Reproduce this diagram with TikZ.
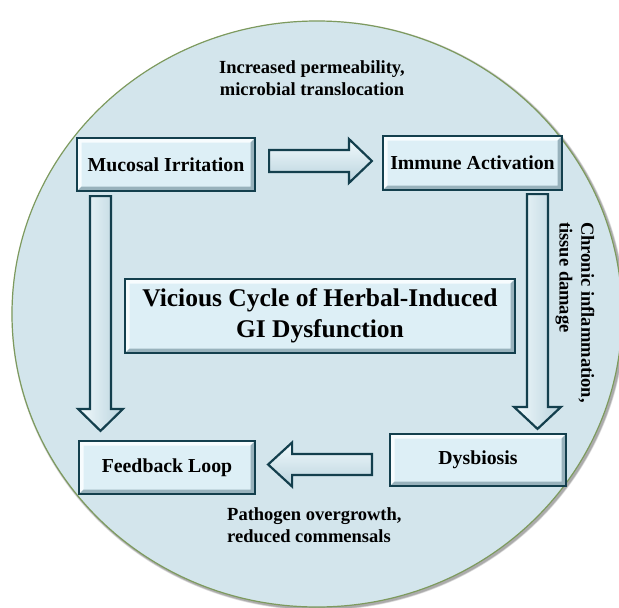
\documentclass[tikz,border=0pt]{standalone}
\usepackage{fontspec}
\setmainfont{Liberation Serif}
\usetikzlibrary{calc}
\definecolor{circfill}{HTML}{D3E5EC}
\definecolor{circline}{HTML}{7D9A5E}
\definecolor{boxface}{HTML}{DDEFF6}
\definecolor{boxline}{HTML}{133F4D}
\definecolor{bevlight}{HTML}{F7FCFE}
\definecolor{bevdark}{HTML}{98B2BC}
\definecolor{arrlight}{HTML}{F2FAFD}
\definecolor{arrdark}{HTML}{B9D3DD}
\tikzset{
  bx/.style={draw=boxline, line width=2.2pt, fill=boxface, inner sep=0pt,
    text=black, align=center,
    font=\fontsize{19.8}{23}\selectfont\bfseries,
    path picture={
      \fill[bevlight] (path picture bounding box.north west) -- (path picture bounding box.north east)
        -- ([shift={(-4.5pt,-4.5pt)}]path picture bounding box.north east)
        -- ([shift={(4.5pt,-4.5pt)}]path picture bounding box.north west)
        -- ([shift={(4.5pt,4.5pt)}]path picture bounding box.south west)
        -- (path picture bounding box.south west) -- cycle;
      \fill[bevdark] (path picture bounding box.south east) -- (path picture bounding box.south west)
        -- ([shift={(4.5pt,4.5pt)}]path picture bounding box.south west)
        -- ([shift={(-4.5pt,4.5pt)}]path picture bounding box.south east)
        -- ([shift={(-4.5pt,-4.5pt)}]path picture bounding box.north east)
        -- (path picture bounding box.north east) -- cycle;
    }},
  lbl/.style={font=\fontsize{18.5}{21.7}\selectfont\bfseries, inner sep=0pt, text=black},
  harrow/.style={draw=boxline, line width=2.2pt, line join=miter, top color=arrlight, bottom color=arrdark},
  varrow/.style={draw=boxline, line width=2.2pt, line join=miter, left color=arrlight, right color=arrdark},
  circ/.style={draw=circline, line width=1.2pt, fill=circfill}
}
\begin{document}
\begin{tikzpicture}[x=1pt,y=-1pt]
\useasboundingbox (0,0) rectangle (619,608);
% shadow of the disc
\foreach \s/\o in {4/0.10,3/0.12,2/0.15}
  \fill[black, opacity=\o] (318.5,315.5) ellipse [x radius=305+\s*0.5, y radius=293+\s*0.5];
\draw[circ] (317,314) ellipse [x radius=305, y radius=293];

% boxes
\node[bx, minimum width=178pt, minimum height=53pt] (mi) at (166,164.5) {Mucosal Irritation};
\node[bx, minimum width=179pt, minimum height=54pt] (ia) at (472.5,163) {Immune Activation};
\node[bx, minimum width=176pt, minimum height=53pt] (fl) at (167,467.5) {Feedback Loop};
\node[bx, minimum width=176pt, minimum height=52pt] (dy) at (478,460) {Dysbiosis};
\node[bx, minimum width=390pt, minimum height=74pt, font=\fontsize{25.5}{31}\selectfont\bfseries] (ct) at (320,316)
  {Vicious Cycle of Herbal-Induced\\GI Dysfunction};

% labels
\node[lbl, align=center] (l1) at (312,78) {Increased permeability,\\microbial translocation};
\node[lbl, align=left, anchor=west] (l3) at (227,525) {Pathogen overgrowth,\\reduced commensals};
\node[lbl, align=left, rotate=-90, anchor=west] (l2) at (575,222) {Chronic inflammation,\\tissue damage};

% arrow end points
\coordinate (a1s) at ($(mi.east)+(13,-3.5)$);
\coordinate (a1e) at ($(ia.west)+(-10,-2)$);
\coordinate (a2s) at ($(mi.south)+(-65.5,4)$);
\coordinate (a2e) at ($(fl.north)+(-66.5,-9)$);
\coordinate (a3s) at ($(ia.south)+(65,3)$);
\coordinate (a3e) at ($(dy.north)+(59.5,-4)$);
\coordinate (a4s) at ($(dy.west)+(-17,4.5)$);
\coordinate (a4e) at ($(fl.east)+(12,-3)$);

% block arrows
\draw[harrow] ($(a1s)+(0,-11)$) -- ($(a1e)+(-23,-11)$) -- ($(a1e)+(-23,-22)$) -- (a1e)
  -- ($(a1e)+(-23,22)$) -- ($(a1e)+(-23,11)$) -- ($(a1s)+(0,11)$) -- cycle;
\draw[varrow] ($(a2s)+(-10.5,0)$) -- ($(a2e)+(-10.5,-22)$) -- ($(a2e)+(-22.5,-22)$) -- (a2e)
  -- ($(a2e)+(22.5,-22)$) -- ($(a2e)+(10.5,-22)$) -- ($(a2s)+(10.5,0)$) -- cycle;
\draw[varrow] ($(a3s)+(-10.5,0)$) -- ($(a3e)+(-10.5,-22)$) -- ($(a3e)+(-23.5,-22)$) -- (a3e)
  -- ($(a3e)+(23.5,-22)$) -- ($(a3e)+(10.5,-22)$) -- ($(a3s)+(10.5,0)$) -- cycle;
\draw[harrow] ($(a4s)+(0,-10.5)$) -- ($(a4e)+(24,-10.5)$) -- ($(a4e)+(24,-22)$) -- (a4e)
  -- ($(a4e)+(24,22)$) -- ($(a4e)+(24,10.5)$) -- ($(a4s)+(0,10.5)$) -- cycle;
\end{tikzpicture}
\end{document}
